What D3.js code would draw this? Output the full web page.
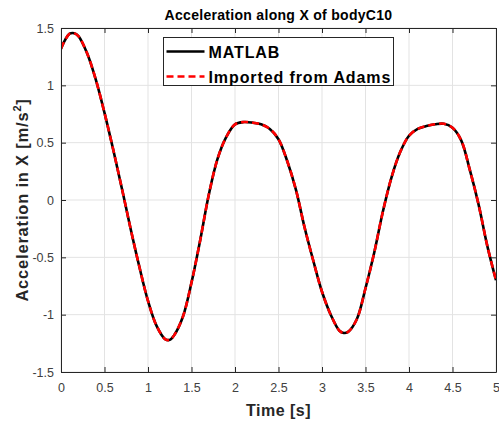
<!DOCTYPE html>
<html>
<head>
<meta charset="utf-8">
<script src="https://cdn.jsdelivr.net/npm/d3@7"></script>
<style>
  html, body { margin: 0; padding: 0; background: #fff; }
  svg { display: block; font-family: "Liberation Sans", Arial, sans-serif; }
</style>
</head>
<body>
<div id="chart"></div>
<script>
// Data
const TIME = [0, 0.05, 0.1, 0.15, 0.2, 0.3, 0.4, 0.5, 0.6, 0.7, 0.8, 0.9, 1.0, 1.1, 1.2, 1.25, 1.3, 1.4, 1.5, 1.6, 1.7, 1.8, 1.9,
              2.0, 2.1, 2.2, 2.3, 2.4, 2.5, 2.6, 2.7, 2.8, 2.9, 3.0, 3.1, 3.2, 3.25, 3.3, 3.4, 3.5, 3.6, 3.7, 3.8, 3.9,
              4.0, 4.1, 4.2, 4.3, 4.4, 4.5, 4.6, 4.7, 4.8, 4.9, 5.0];
const ACCEL_MATLAB = [1.32, 1.40, 1.45, 1.455, 1.43, 1.28, 1.05, 0.76, 0.44, 0.10, -0.25, -0.58, -0.88, -1.10, -1.215, -1.22, -1.18, -1.02, -0.72, -0.35, 0.05, 0.36, 0.55,
                      0.66, 0.68, 0.675, 0.66, 0.62, 0.53, 0.34, 0.09, -0.24, -0.53, -0.80, -1.00, -1.14, -1.16, -1.15, -1.04, -0.77, -0.46, -0.10, 0.20, 0.42,
                      0.56, 0.62, 0.645, 0.66, 0.665, 0.63, 0.52, 0.26, -0.04, -0.40, -0.70];
// the Adams curve lies on top of the MATLAB one
const ACCEL_ADAMS = ACCEL_MATLAB.slice();
const X_TICKS = [0, 0.5, 1, 1.5, 2, 2.5, 3, 3.5, 4, 4.5, 5];
const Y_TICKS = [-1.5, -1, -0.5, 0, 0.5, 1, 1.5];
const SERIES_NAMES = ["MATLAB", "Imported from Adams"];

const W = 499, H = 423;
const margin = { top: 28, right: 3, bottom: 51, left: 61 };
const width = W - margin.left - margin.right, height = H - margin.top - margin.bottom;
const axisColor = "#262626";

const svg = d3.select("#chart").append("svg").attr("width", W).attr("height", H);
const g = svg.append("g").attr("transform", `translate(${margin.left},${margin.top})`);

const x = d3.scaleLinear().domain([0, 5]).range([0, width]);
const y = d3.scaleLinear().domain([-1.5, 1.5]).range([height, 0]);

// Grid
g.append("g").selectAll("line").data(X_TICKS).enter().append("line")
    .attr("x1", d => x(d)).attr("x2", d => x(d)).attr("y1", 0).attr("y2", height)
    .attr("stroke", "#e3e3e3").attr("stroke-width", 1);
g.append("g").selectAll("line").data(Y_TICKS).enter().append("line")
    .attr("x1", 0).attr("x2", width).attr("y1", d => y(d)).attr("y2", d => y(d))
    .attr("stroke", "#e3e3e3").attr("stroke-width", 1);

// Curves
svg.append("clipPath").attr("id", "clip").append("rect").attr("width", width).attr("height", height);
const line = d3.line().x(d => x(d[0])).y(d => y(d[1])).curve(d3.curveCatmullRom.alpha(0.5));
const plot = g.append("g").attr("clip-path", "url(#clip)");
plot.append("path").datum(TIME.map((t, i) => [t, ACCEL_MATLAB[i]]))
    .attr("d", line).attr("fill", "none").attr("stroke", "#000").attr("stroke-width", 2.6);
plot.append("path").datum(TIME.map((t, i) => [t, ACCEL_ADAMS[i]]))
    .attr("d", line).attr("fill", "none").attr("stroke", "#ff0000").attr("stroke-width", 2.6)
    .attr("stroke-dasharray", "7,4");

// Axes (box with inward ticks on all sides)
const fmt = d => d3.format("")(d).replace("−", "-");
const styleAxis = sel => {
    sel.select(".domain").attr("stroke", axisColor);
    sel.selectAll(".tick line").attr("stroke", axisColor);
    sel.selectAll(".tick text").attr("fill", "#404040").style("font-size", "12.5px")
        .style("font-family", "'Liberation Sans', Arial, sans-serif");
};
g.append("g").attr("transform", `translate(0,${height})`)
    .call(d3.axisBottom(x).tickValues(X_TICKS).tickFormat(fmt).tickSizeInner(-5).tickSizeOuter(0).tickPadding(11))
    .call(styleAxis);
g.append("g")
    .call(d3.axisLeft(y).tickValues(Y_TICKS).tickFormat(fmt).tickSizeInner(-5).tickSizeOuter(0).tickPadding(7))
    .call(styleAxis);
g.append("g")
    .call(d3.axisTop(x).tickValues(X_TICKS).tickFormat("").tickSizeInner(-5).tickSizeOuter(0))
    .call(styleAxis);
g.append("g").attr("transform", `translate(${width},0)`)
    .call(d3.axisRight(y).tickValues(Y_TICKS).tickFormat("").tickSizeInner(-5).tickSizeOuter(0))
    .call(styleAxis);

// Title and labels
svg.append("text").attr("x", margin.left + width / 2).attr("y", 20).attr("text-anchor", "middle")
    .style("font-size", "14px").style("font-weight", "bold").style("letter-spacing", "0.3px").attr("fill", "#000")
    .text("Acceleration along X of bodyC10");
svg.append("text").attr("x", margin.left + width / 2).attr("y", 416).attr("text-anchor", "middle")
    .style("font-size", "16px").style("font-weight", "bold").style("letter-spacing", "0.5px").attr("fill", "#262626")
    .text("Time [s]");
const yl = svg.append("text").attr("transform", `translate(28,${margin.top + height / 2}) rotate(-90)`)
    .attr("text-anchor", "middle").style("font-size", "16.5px").style("font-weight", "bold")
    .style("letter-spacing", "0.8px").attr("fill", "#262626");
yl.append("tspan").text("Acceleration in X [m/s");
yl.append("tspan").attr("dy", -7).style("font-size", "11px").text("2");
yl.append("tspan").attr("dy", 7).text("]");

// Legend
const leg = svg.append("g").attr("transform", "translate(163.5,37.5)");
leg.append("rect").attr("width", 230).attr("height", 48).attr("fill", "#fff").attr("stroke", axisColor).attr("stroke-width", 1);
const rows = leg.selectAll(".row").data(SERIES_NAMES).enter().append("g")
    .attr("transform", (d, i) => `translate(0,${14 + i * 25})`);
rows.append("line").attr("x1", 3).attr("x2", 41).attr("y1", 0).attr("y2", 0)
    .attr("stroke", (d, i) => i === 0 ? "#000" : "#ff0000").attr("stroke-width", 2.6)
    .attr("stroke-dasharray", (d, i) => i === 0 ? null : "7,4");
rows.append("text").attr("x", 45).attr("y", 6).style("font-size", "16px").style("font-weight", "bold")
    .style("letter-spacing", "0.9px").attr("fill", "#000").text(d => d);
</script>
</body>
</html>
